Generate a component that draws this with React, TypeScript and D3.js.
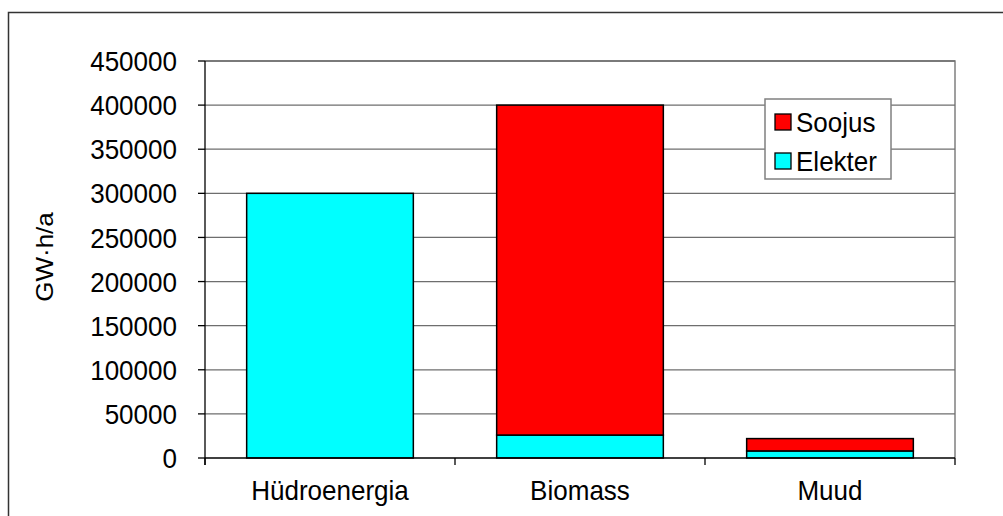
import React from 'react';
import * as d3 from 'd3';

const categories = ['Hüdroenergia', 'Biomass', 'Muud'];
const elekter = [300000, 26000, 8000];
const soojus = [0, 374000, 14000];
const yTicks = [0, 50000, 100000, 150000, 200000, 250000, 300000, 350000, 400000, 450000];

const W = 1003;
const H = 516;
const FONT = '"Liberation Sans", Arial, sans-serif';
const FS = 28;
const SX = 0.93; // the source picture is a little squeezed sideways

export default function App() {
  const left = 205;
  const right = 955;
  const top = 61;
  const bottom = 458;

  const y = d3.scaleLinear().domain([0, 450000]).range([bottom, top]);
  const x = d3
    .scaleBand<string>()
    .domain(categories)
    .range([left, right])
    .paddingInner(1 / 3)
    .paddingOuter(1 / 6);
  const step = x.step();

  const stacked = categories.map((c, i) => ({
    name: c,
    parts: [
      { key: 'Elekter', y0: 0, y1: elekter[i], color: '#00ffff' },
      { key: 'Soojus', y0: elekter[i], y1: elekter[i] + soojus[i], color: '#ff0000' },
    ].filter((p) => p.y1 > p.y0),
  }));

  const legend = [
    { key: 'Soojus', color: '#ff0000' },
    { key: 'Elekter', color: '#00ffff' },
  ];

  return (
    <svg
      width={W}
      height={H}
      style={{ position: 'absolute', left: 0, top: 0, background: '#fff' }}
      fontFamily={FONT}
    >
      {/* outer chart frame, runs past the window */}
      <rect x={8.5} y={12.5} width={1100} height={600} fill="#fff" stroke="#333" strokeWidth={1.5} />

      {/* plot area border (top/right) */}
      <path d={`M${left},${top}H${right}V${bottom}`} fill="none" stroke="#808080" strokeWidth={1.5} />

      {/* gridlines */}
      {yTicks.filter((t) => t > 0).map((t) => (
        <line key={t} x1={left} x2={right} y1={y(t)} y2={y(t)} stroke="#6e6e6e" strokeWidth={1.3} />
      ))}

      {/* bars */}
      {stacked.map((s) =>
        s.parts.map((p) => (
          <rect
            key={s.name + p.key}
            x={x(s.name)}
            y={y(p.y1)}
            width={x.bandwidth()}
            height={y(p.y0) - y(p.y1)}
            fill={p.color}
            stroke="#000"
            strokeWidth={1.5}
          />
        ))
      )}

      {/* y axis */}
      <line x1={left} x2={left} y1={top} y2={bottom + 7} stroke="#000" strokeWidth={1.3} />
      {yTicks.map((t) => (
        <g key={t}>
          <line x1={left - 7} x2={left} y1={y(t)} y2={y(t)} stroke="#000" strokeWidth={1.3} />
          <text
            transform={`translate(177,${y(t)}) scale(${SX},1)`}
            dy="0.36em"
            textAnchor="end"
            fontSize={FS}
            fill="#000"
          >
            {t}
          </text>
        </g>
      ))}

      {/* x axis */}
      <line x1={left} x2={right} y1={bottom} y2={bottom} stroke="#000" strokeWidth={1.3} />
      {d3.range(categories.length + 1).map((i) => (
        <line
          key={i}
          x1={left + i * step}
          x2={left + i * step}
          y1={bottom}
          y2={bottom + 7}
          stroke="#000"
          strokeWidth={1.3}
        />
      ))}
      {categories.map((c) => (
        <text
          key={c}
          transform={`translate(${(x(c) ?? 0) + x.bandwidth() / 2},500) scale(${SX},1)`}
          textAnchor="middle"
          fontSize={FS}
          fill="#000"
        >
          {c}
        </text>
      ))}

      {/* y axis title */}
      <text
        transform={`translate(53,257) scale(${SX},1) rotate(-90)`}
        textAnchor="middle"
        fontSize={26}
        fill="#000"
      >
        GW·h/a
      </text>

      {/* legend */}
      <rect x={765} y={99} width={126} height={80} fill="#fff" stroke="#808080" strokeWidth={1.5} />
      {legend.map((l, i) => (
        <g key={l.key} transform={`translate(775,${114 + i * 39})`}>
          <rect x={0} y={0} width={16} height={16} fill={l.color} stroke="#000" strokeWidth={1.3} />
          <text transform={`translate(21,8) scale(${SX},1)`} dy="0.36em" fontSize={FS} fill="#000">
            {l.key}
          </text>
        </g>
      ))}
    </svg>
  );
}
